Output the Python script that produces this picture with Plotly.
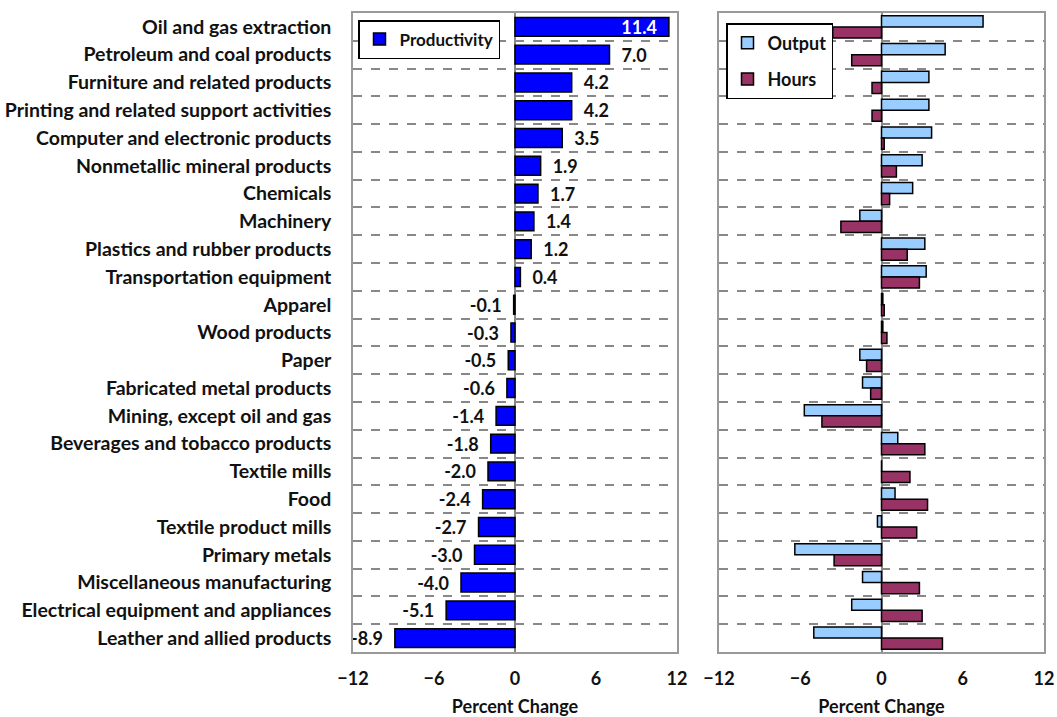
import plotly.graph_objects as go

categories = [
    "Oil and gas extraction", "Petroleum and coal products", "Furniture and related products",
    "Printing and related support activities", "Computer and electronic products",
    "Nonmetallic mineral products", "Chemicals", "Machinery", "Plastics and rubber products",
    "Transportation equipment", "Apparel", "Wood products", "Paper", "Fabricated metal products",
    "Mining, except oil and gas", "Beverages and tobacco products", "Textile mills", "Food",
    "Textile product mills", "Primary metals", "Miscellaneous manufacturing",
    "Electrical equipment and appliances", "Leather and allied products",
]
productivity = [11.4, 7.0, 4.2, 4.2, 3.5, 1.9, 1.7, 1.4, 1.2, 0.4, -0.1, -0.3, -0.5, -0.6,
                -1.4, -1.8, -2.0, -2.4, -2.7, -3.0, -4.0, -5.1, -8.9]
output = [7.5, 4.7, 3.5, 3.5, 3.7, 3.0, 2.3, -1.6, 3.2, 3.3, 0.1, 0.1, -1.6, -1.4,
          -5.7, 1.2, 0.0, 1.0, -0.3, -6.4, -1.4, -2.2, -5.0]
hours = [-3.6, -2.2, -0.7, -0.7, 0.2, 1.1, 0.6, -3.0, 1.9, 2.8, 0.2, 0.4, -1.1, -0.8,
         -4.4, 3.2, 2.1, 3.4, 2.6, -3.5, 2.8, 3.0, 4.5]
x_ticks = [-12, -6, 0, 6, 12]

FONT = "Lato"
SP = "\u2002"
TXT = "#111111"

labels = []
positions = []
for i, v in enumerate(productivity):
    if i == 0:
        labels.append(f"{v:.1f}{SP}")
        positions.append("inside")
    elif v >= 0:
        labels.append(f"{SP}{v:.1f}")
        positions.append("outside")
    else:
        labels.append(f"{v:.1f}{SP}")
        positions.append("outside")

fig = go.Figure()
fig.add_trace(go.Bar(
    y=categories, x=productivity, orientation="h", name="Productivity",
    marker=dict(color="#0000FF", line=dict(color="#000000", width=1.5)),
    width=0.68, text=labels, textposition=positions, insidetextanchor="end",
    constraintext="none",
    outsidetextfont=dict(family=FONT, size=18, color=TXT, weight="bold"),
    insidetextfont=dict(family=FONT, size=18, color="white", weight="bold"),
    cliponaxis=False, xaxis="x", yaxis="y", legend="legend",
))
fig.add_trace(go.Bar(
    y=categories, x=output, orientation="h", name="Output",
    marker=dict(color="#99CCFF", line=dict(color="#000000", width=1.5)),
    xaxis="x2", yaxis="y2", legend="legend2", legendgroup="o",
))
fig.add_trace(go.Bar(
    y=categories, x=hours, orientation="h", name="Hours",
    marker=dict(color="#993366", line=dict(color="#000000", width=1.5)),
    xaxis="x2", yaxis="y2", legend="legend2", legendgroup="h",
))

axis_common = dict(
    range=[-12, 12], tickvals=x_ticks, showgrid=False,
    zeroline=True, zerolinecolor="#888888", zerolinewidth=1.5,
    showline=True, linecolor="#999999", linewidth=1.5, mirror=True,
    ticks="", ticklabelstandoff=10, automargin=False,
    tickfont=dict(family=FONT, size=18, color=TXT, weight="bold"),
    title=dict(text="Percent Change", font=dict(family=FONT, size=18, color=TXT, weight="bold"), standoff=12),
    fixedrange=True,
)
yaxis_common = dict(
    type="category", categoryorder="array", categoryarray=categories,
    autorange="reversed", tickson="boundaries", automargin=False,
    showgrid=True, gridcolor="#888888", griddash="dash", gridwidth=1.5,
    showline=True, linecolor="#999999", linewidth=1.5, mirror=True,
    ticks="", fixedrange=True,
)

fig.update_layout(
    width=1057, height=717,
    margin=dict(l=0, r=0, t=0, b=0, autoexpand=False),
    paper_bgcolor="white", plot_bgcolor="white",
    barmode="group", bargap=0.2, bargroupgap=0.0,
    font=dict(family=FONT, size=18, color=TXT),
    xaxis=dict(domain=[353 / 1057, 677 / 1057], anchor="y", **axis_common),
    xaxis2=dict(domain=[719 / 1057, 1044 / 1057], anchor="y2", **axis_common),
    yaxis=dict(domain=[1 - 652 / 717, 1 - 13 / 717], anchor="x",
               tickfont=dict(family=FONT, size=19.5, color=TXT, weight="bold"),
               ticklabelstandoff=16, showticklabels=True, **yaxis_common),
    yaxis2=dict(domain=[1 - 652 / 717, 1 - 13 / 717], anchor="x2", showticklabels=False, **yaxis_common),
    legend=dict(x=358 / 1057, y=1 - 20 / 717, xanchor="left", yanchor="top",
                bgcolor="white", bordercolor="#000000", borderwidth=1.5, itemwidth=30,
                font=dict(family=FONT, size=17, color=TXT, weight="bold")),
    legend2=dict(x=726 / 1057, y=1 - 23 / 717, xanchor="left", yanchor="top",
                 bgcolor="white", bordercolor="#000000", borderwidth=1.5, itemwidth=30,
                 tracegroupgap=10,
                 font=dict(family=FONT, size=18, color=TXT, weight="bold")),
    showlegend=True,
)

fig.write_html(
    "out.html",
    config={"displayModeBar": False},
    post_script="document.body.style.margin='0';document.body.style.overflow='hidden';",
)
